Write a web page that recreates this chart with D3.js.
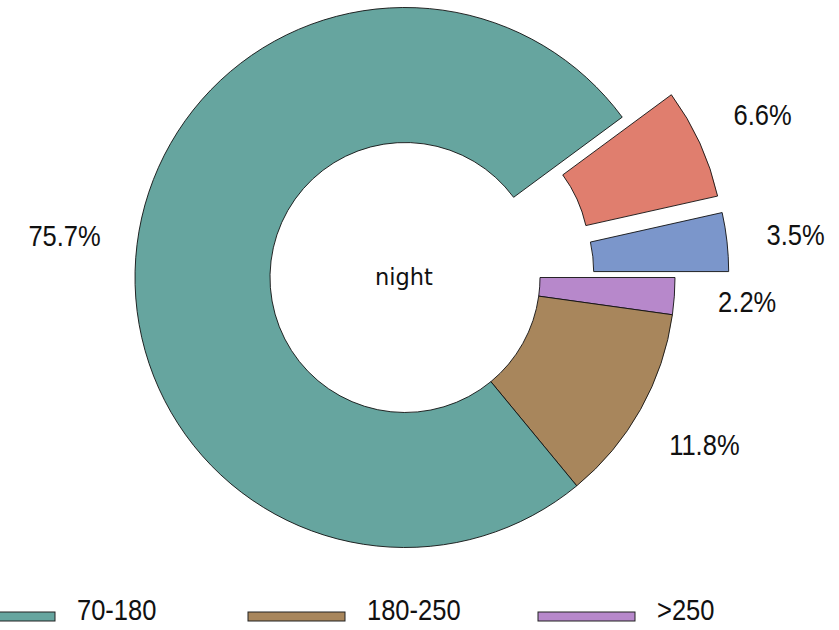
<!DOCTYPE html>
<html>
<head>
<meta charset="utf-8">
<script src="https://cdn.jsdelivr.net/npm/d3@7"></script>
<style>
  html, body { margin: 0; padding: 0; background: #fff; }
  svg { display: block; }
</style>
</head>
<body>
<svg id="chart" width="839" height="630"></svg>
<script>
// slices in drawing order, clockwise from 3 o'clock
const categories = [">250", "180-250", "70-180", "54-70", "<54"];
const percents = [2.2, 11.8, 75.7, 6.6, 3.5];
const exploded = [false, false, false, true, true];
const colors = ["#b788cb", "#a8865c", "#66a59f", "#e07e6e", "#7b96cb"];
const legendKeys = ["70-180", "180-250", ">250"];
const centerLabel = "night";

const width = 839;
const height = 630;
const cx = 405, cy = 277.5;
const outerR = 270, innerR = 135;
const explodeBy = 54;
const labelR = 343;

const svg = d3.select("#chart");

const color = d3.scaleOrdinal().domain(categories).range(colors);

const data = categories.map((c, i) => ({ key: c, value: percents[i], out: exploded[i] }));

const pie = d3.pie()
  .sort(null)
  .value((d) => d.value)
  .startAngle(Math.PI / 2)
  .endAngle(Math.PI / 2 + 2 * Math.PI);

const arc = d3.arc().innerRadius(innerR).outerRadius(outerR);

const arcs = pie(data);

const shift = (d, r) => {
  const m = (d.startAngle + d.endAngle) / 2;
  return [Math.sin(m) * r, -Math.cos(m) * r];
};

const g = svg.append("g").attr("transform", `translate(${cx},${cy})`);

// slices
g.selectAll("path.slice")
  .data(arcs)
  .join("path")
  .attr("class", "slice")
  .attr("d", arc)
  .attr("transform", (d) => {
    const [dx, dy] = shift(d, d.data.out ? explodeBy : 0);
    return `translate(${dx},${dy})`;
  })
  .attr("fill", (d) => color(d.data.key))
  .attr("stroke", "#111")
  .attr("stroke-width", 0.9);

// percent labels
g.selectAll("g.lab")
  .data(arcs)
  .join("g")
  .attr("class", "lab")
  .attr("transform", (d) => {
    const [x, y] = shift(d, labelR + (d.data.out ? 50 : 0));
    return `translate(${x},${y})`;
  })
  .append("text")
  .attr("transform", "scale(0.88,1)")
  .attr("text-anchor", "middle")
  .attr("dy", "0.36em")
  .style("font-family", "'Liberation Sans', Arial, sans-serif")
  .style("font-size", "29px")
  .attr("fill", "#111")
  .text((d) => d.data.value.toFixed(1) + "%");

// center label
g.append("text")
  .attr("x", -1)
  .attr("y", 7.5)
  .attr("text-anchor", "middle")
  .style("font-family", "'DejaVu Sans', sans-serif")
  .style("font-size", "22.5px")
  .attr("fill", "#111")
  .text(centerLabel);

// legend (the first two keys fall off the left edge in the original)
const legend = svg.append("g").attr("transform", "translate(0,612)");

const item = legend.selectAll("g")
  .data(legendKeys)
  .join("g")
  .attr("transform", (d, i) => `translate(${-42 + i * 290},0)`);

item.append("rect")
  .attr("width", 97)
  .attr("height", 9)
  .attr("fill", (d) => color(d))
  .attr("stroke", "#222")
  .attr("stroke-width", 1);

item.append("text")
  .attr("transform", "translate(119,7.5) scale(0.88,1)")
  .style("font-family", "'Liberation Sans', Arial, sans-serif")
  .style("font-size", "29px")
  .attr("fill", "#111")
  .text((d) => d);
</script>
</body>
</html>
